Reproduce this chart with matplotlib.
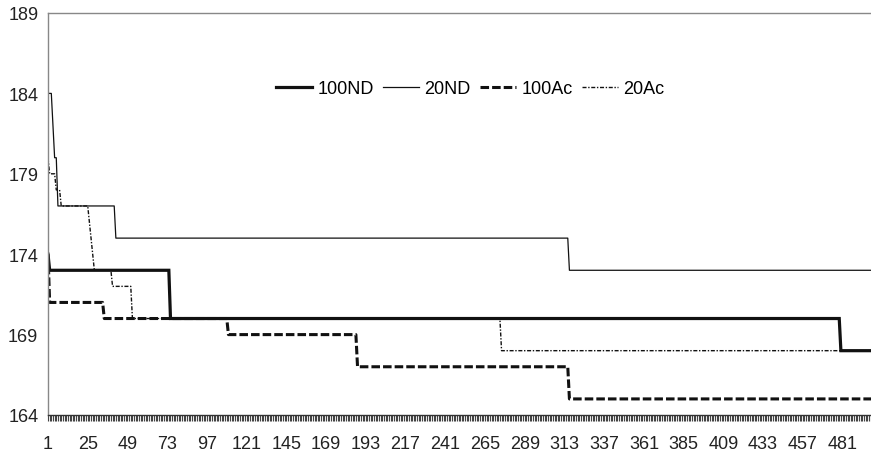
import numpy as np
import matplotlib
matplotlib.use('Agg')
import matplotlib.pyplot as plt

plt.rcParams['font.family'] = ['Liberation Sans', 'DejaVu Sans']

n_cat = 500
categories = np.arange(1, n_cat + 1)

# step runs: value held up to (and including) the given category
nd100_values = [174, 173, 170, 168]
nd100_ends = [1, 74, 479, 500]

nd20_values = [184, 182, 180, 177, 175, 173]
nd20_ends = [3, 4, 6, 41, 315, 500]

ac100_values = [174, 171, 170, 169, 167, 165]
ac100_ends = [1, 34, 109, 187, 315, 500]

ac20_values = [180, 179, 178, 177, 176, 175, 174, 173, 172, 170, 168]
ac20_ends = [1, 5, 8, 25, 26, 27, 28, 39, 51, 274, 500]

tick_labels = [str(v) for v in range(1, n_cat + 1, 24)]
y_ticks = [164, 169, 174, 179, 184, 189]


def expand(values, ends):
    counts = np.diff([0] + ends)
    return np.repeat(values, counts)


fig = plt.figure(figsize=(8.71, 4.52), dpi=100)
ax = fig.add_axes([48 / 871, 36 / 452, 826 / 871, 402 / 452])

ax.plot(categories, expand(nd100_values, nd100_ends), color='#111111', lw=2.3,
        label='100ND', solid_joinstyle='miter')
ax.plot(categories, expand(nd20_values, nd20_ends), color='#111111', lw=0.9,
        label='20ND')
ax.plot(categories, expand(ac100_values, ac100_ends), color='#111111', lw=2.2,
        dashes=(2.8, 1.0), label='100Ac')
ax.plot(categories, expand(ac20_values, ac20_ends), color='#111111', lw=1.0,
        dashes=(2.9, 1.2, 1.0, 1.2), label='20Ac')

ax.set_xlim(1, n_cat)
ax.set_ylim(164, 189)

ax.set_yticks(y_ticks)
ax.tick_params(axis='y', length=0, pad=7, labelsize=13, colors='#222222')

ax.set_xticks(list(range(1, n_cat + 1, 24)))
ax.set_xticklabels(tick_labels)
ax.set_xticks(categories, minor=True)
ax.tick_params(axis='x', which='both', direction='out', length=4, width=0.8,
               color='#444444', labelsize=13, labelcolor='#222222', pad=10.5)

for side in ['left', 'top']:
    ax.spines[side].set_color('#888888')
    ax.spines[side].set_linewidth(1.0)
ax.spines['bottom'].set_color('#333333')
ax.spines['bottom'].set_linewidth(1.0)
ax.spines['right'].set_visible(False)

ax.legend(loc='center', bbox_to_anchor=(0.511, 0.811), ncol=4, frameon=False,
          fontsize=13, handlelength=2.0, handletextpad=0.3, columnspacing=0.5)

fig.savefig('out.png', dpi=100)
